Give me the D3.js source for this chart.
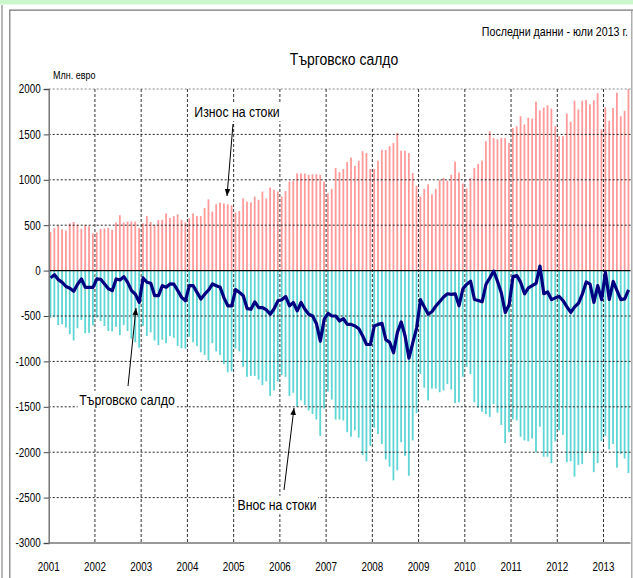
<!DOCTYPE html>
<html>
<head>
<meta charset="utf-8">
<script src="https://d3js.org/d3.v7.min.js"></script>
<style>
  body { margin: 0; background: #fff; }
  svg { display: block; }
  text { font-family: "Liberation Sans", Arial, sans-serif; fill: #000; }
</style>
</head>
<body>
<svg id="chart" width="633" height="578"></svg>
<script>
// monthly data, Jan 2001 .. Jul 2013 (mln. euro)
const years = ["2001","2002","2003","2004","2005","2006","2007","2008","2009","2010","2011","2012","2013"];
const yTicks = [2000, 1500, 1000, 500, 0, -500, -1000, -1500, -2000, -2500, -3000];

const exportsData = [
  425, 470, 500, 455, 440, 520, 535, 505, 462, 500, 490, 410,
  420, 460, 465, 470, 450, 530, 610, 530, 540, 540, 540, 470,
  520, 600, 535, 505, 555, 560, 630, 580, 600, 620, 560, 530,
  575, 630, 600, 600, 690, 785, 650, 730, 750, 740, 730, 720,
  640, 655, 795, 760, 750, 815, 780, 870, 795, 915, 890, 870,
  815, 875, 980, 990, 1070, 1070, 1070, 1055, 1060, 1060, 1055, 980,
  850, 900, 1130, 1085, 1120, 1195, 1245, 1155, 1210, 1315, 1295, 1120,
  1120, 1210, 1330, 1330, 1370, 1405, 1515, 1320, 1320, 1295, 1075, 935,
  815, 900, 950, 840, 900, 1000, 1020, 990, 1055, 1200, 1080, 960,
  905, 1020, 1130, 1175, 1210, 1425, 1535, 1460, 1445, 1460, 1460, 1405,
  1570, 1590, 1700, 1610, 1685, 1675, 1860, 1765, 1795, 1820, 1785, 1590,
  1480, 1480, 1730, 1640, 1870, 1775, 1870, 1880, 1830, 1875, 1955, 1555,
  1800, 1650, 1790, 1960, 1700, 1760, 2000
];

const importsData = [
  -520, -515, -600, -590, -625, -700, -770, -635, -545, -690, -685, -605,
  -520, -555, -610, -665, -670, -620, -710, -600, -665, -750, -790, -850,
  -610, -720, -680, -770, -820, -760, -800, -720, -740, -830, -855, -860,
  -730, -790, -830, -900, -930, -990, -800, -890, -930, -1030, -1120, -1110,
  -860, -890, -1060, -1170, -1160, -1160, -1200, -1260, -1220, -1380, -1320, -1220,
  -1150, -1170, -1380, -1345, -1500, -1430, -1480, -1540, -1580, -1640, -1820, -1520,
  -1330, -1420, -1640, -1640, -1650, -1780, -1830, -1760, -1840, -2030, -2100, -1930,
  -1730, -1800, -1910, -2080, -2160, -2310, -2200, -1890, -2040, -2260, -1870, -1570,
  -1140, -1290, -1430, -1300, -1300, -1340, -1320, -1250, -1310, -1460, -1450, -1170,
  -1060, -1140, -1450, -1510, -1555, -1580, -1610, -1470, -1565, -1700, -1900, -1780,
  -1640, -1650, -1830, -1870, -1880, -1850, -2000, -1720, -2050, -2050, -2120, -1880,
  -1760, -1810, -2110, -2100, -2270, -2140, -2130, -2000, -1990, -2220, -2120, -1880,
  -1820, -1970, -1910, -2170, -2020, -2070, -2230
];

const balanceData = [
  -80, -45, -100, -130, -175, -195, -228, -150, -92, -184, -184, -184,
  -92, -95, -147, -200, -221, -92, -103, -66, -129, -221, -260, -350,
  -81, -129, -140, -276, -276, -166, -184, -147, -150, -221, -295, -332,
  -166, -166, -240, -313, -260, -214, -147, -166, -184, -300, -388, -388,
  -210, -240, -277, -418, -425, -344, -407, -407, -433, -481, -420, -333,
  -320, -285, -388, -351, -444, -351, -425, -481, -500, -585, -777, -537,
  -470, -500, -500, -555, -530, -592, -592, -610, -640, -720, -814, -814,
  -610, -592, -580, -760, -790, -905, -680, -565, -720, -965, -792, -630,
  -320, -400, -480, -450, -390, -340, -290, -255, -262, -255, -387, -200,
  -150, -118, -318, -330, -344, -150, -80, -5, -120, -250, -461, -376,
  -66, -55, -130, -255, -190, -165, -140, 50, -255, -235, -320, -300,
  -285, -330, -400, -461, -400, -360, -260, -125, -148, -350, -165, -320,
  -20, -318, -120, -220, -320, -312, -212
];

const svg = d3.select("#chart");
const W = 633, H = 578;
const n = exportsData.length;
const SX = 0.82; // narrow type, like the original

const x = d3.scaleLinear().domain([0, n]).range([48.7, 630.5]);
const y = d3.scaleLinear().domain([-3000, 2000]).range([543, 89]);

// narrow text placed at (tx, ty)
function label(parent, tx, ty, str, size, anchor) {
  const g = parent.append("g").attr("transform", `translate(${tx},${ty}) scale(${SX},1)`);
  g.append("text").attr("font-size", size).attr("text-anchor", anchor || "start").text(str);
  return g;
}

// frame
svg.append("rect").attr("x", 0).attr("y", 0).attr("width", W).attr("height", 4.5).attr("fill", "#ccf7cc");
svg.append("line").attr("x1", 2).attr("x2", 2).attr("y1", 5).attr("y2", H).attr("stroke", "#888").attr("stroke-width", 1.2);
svg.append("path").attr("d", `M9.8,${H}V10.2H${W}`).attr("fill", "none").attr("stroke", "#777").attr("stroke-width", 1.2);
svg.append("line").attr("x1", 631.8).attr("x2", 631.8).attr("y1", 10).attr("y2", H).attr("stroke", "#999").attr("stroke-width", 1.2);

// bars
const months = d3.range(n);
svg.append("g").selectAll("rect").data(months).join("rect")
  .attr("x", i => x(i) + 0.9).attr("width", 1.8)
  .attr("y", i => y(exportsData[i])).attr("height", i => y(0) - y(exportsData[i]))
  .attr("fill", "#ff9a9a");
svg.append("g").selectAll("rect").data(months).join("rect")
  .attr("x", i => x(i) + 0.9).attr("width", 1.8)
  .attr("y", y(0)).attr("height", i => y(importsData[i]) - y(0))
  .attr("fill", "#5fd5d5");

// grid
const grid = svg.append("g");
grid.selectAll("line.h").data(yTicks.filter(v => v !== 0 && v !== -3000)).join("line")
  .attr("x1", x(0)).attr("x2", x(n)).attr("y1", d => y(d)).attr("y2", d => y(d))
  .attr("stroke", d => d === 2000 ? "#888" : "#222").attr("stroke-width", 1).attr("stroke-dasharray", "2,2");
grid.selectAll("line.v").data(d3.range(1, years.length)).join("line")
  .attr("x1", k => x(12 * k)).attr("x2", k => x(12 * k)).attr("y1", y(2000)).attr("y2", y(-3000))
  .attr("stroke", "#333").attr("stroke-width", 1).attr("stroke-dasharray", "3,2");

// zero line
svg.append("line").attr("x1", x(0)).attr("x2", x(n)).attr("y1", y(0)).attr("y2", y(0)).attr("stroke", "#000").attr("stroke-width", 1.2);

// axes
const yAxis = svg.append("g").attr("transform", `translate(${x(0)},0)`)
  .call(d3.axisLeft(y).tickValues(yTicks).tickSize(5).tickPadding(4).tickFormat(d => String(d)));
yAxis.select(".domain").attr("stroke", "#777").attr("stroke-width", 1.5);
yAxis.selectAll(".tick line").attr("stroke", "#444");
yAxis.selectAll(".tick text")
  .attr("font-size", 12).attr("font-family", null)
  .attr("x", 0).attr("transform", `translate(-8,0) scale(${SX},1)`);

svg.append("line").attr("x1", x(0)).attr("x2", x(n)).attr("y1", y(-3000)).attr("y2", y(-3000)).attr("stroke", "#777").attr("stroke-width", 1.5);

const xLab = svg.append("g");
years.forEach((d, k) => label(xLab, x(12 * k), 571, d, 12, "middle"));

// balance line
svg.append("path").datum(balanceData)
  .attr("d", d3.line().x((d, i) => x(i + 0.5)).y(d => y(d)))
  .attr("fill", "none").attr("stroke", "#000080").attr("stroke-width", 3.2).attr("stroke-linejoin", "round");

// titles
label(svg, 344, 65, "Търговско салдо", 17, "middle");
label(svg, 628, 36, "Последни данни - юли 2013 г.", 13, "end");
label(svg, 53, 79, "Млн. евро", 11, "start");

// annotations
svg.append("defs").append("marker").attr("id", "arr").attr("viewBox", "0 0 10 10")
  .attr("refX", 10).attr("refY", 5).attr("markerWidth", 7).attr("markerHeight", 7).attr("orient", "auto")
  .append("path").attr("d", "M0,1L10,5L0,9Z").attr("fill", "#000");

function note(str, tx, ty, ax1, ay1, ax2, ay2) {
  const g = label(svg, tx, ty, str, 15, "middle");
  const b = g.select("text").node().getBBox();
  g.insert("rect", "text").attr("fill", "#fff")
    .attr("x", b.x - 2).attr("y", b.y - 1).attr("width", b.width + 4).attr("height", b.height + 2);
  svg.append("line").attr("x1", ax1).attr("y1", ay1).attr("x2", ax2).attr("y2", ay2)
    .attr("stroke", "#000").attr("stroke-width", 1).attr("marker-end", "url(#arr)");
}
note("Износ на стоки", 237, 117, 233, 124, 227, 196);
note("Търговско салдо", 127, 405, 128, 386, 136, 308);
note("Внос на стоки", 277, 510, 284, 490, 294, 408);
</script>
</body>
</html>
